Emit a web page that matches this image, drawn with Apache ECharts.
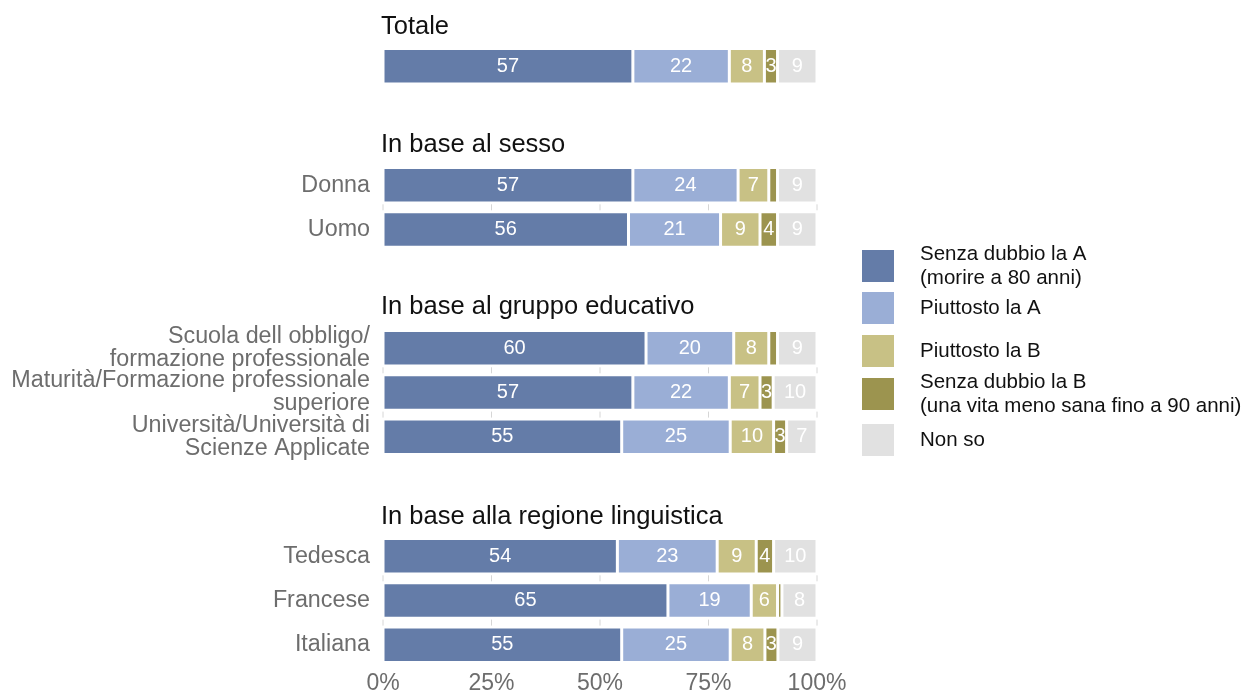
<!DOCTYPE html>
<html>
<head>
<meta charset="utf-8">
<script src="https://cdn.jsdelivr.net/npm/echarts@6/dist/echarts.min.js"></script>
<style>
  html, body { margin: 0; padding: 0; background: #fff; }
  #chart { width: 1241px; height: 691px; }
</style>
</head>
<body>
<div id="chart"></div>
<script>
// risposte (serie)
var answers = [
    'Senza dubbio la A\n(morire a 80 anni)',
    'Piuttosto la A',
    'Piuttosto la B',
    'Senza dubbio la B\n(una vita meno sana fino a 90 anni)',
    'Non so'
];
var colors = ['#647CA8', '#9AAED6', '#C8C185', '#9C944F', '#E1E1E1'];

// gruppi
var groupTitles = ['Totale', 'In base al sesso', 'In base al gruppo educativo', 'In base alla regione linguistica'];
var groupCategories = [
    ['Totale'],
    ['Donna', 'Uomo'],
    ['Scuola dell obbligo/\nformazione professionale', 'Maturità/Formazione professionale\nsuperiore', 'Università/Università di\nScienze Applicate'],
    ['Tedesca', 'Francese', 'Italiana']
];

// valori (%), ordine come answers
var totale = [57, 22, 8, 3, 9];
var donna = [57, 24, 7, 2, 9];
var uomo = [56, 21, 9, 4, 9];
var scuola = [60, 20, 8, 2, 9];
var maturita = [57, 22, 7, 3, 10];
var universita = [55, 25, 10, 3, 7];
var tedesca = [54, 23, 9, 4, 10];
var francese = [65, 19, 6, 1, 8];
var italiana = [55, 25, 8, 3, 9];
var groupValues = [
    [totale],
    [donna, uomo],
    [scuola, maturita, universita],
    [tedesca, francese, italiana]
];

var xTicks = [0, 25, 50, 75, 100];

var font = 'Liberation Sans, Arial, Helvetica, sans-serif';
var gridTops = [44, 163, 326, 534];
var titleTops = [13, 131, 293, 503];
var pitch = 44.3;
var legendTops = [242, 290, 333, 370, 422];

var grids = [], xAxes = [], yAxes = [], titles = [], series = [], legends = [];

groupTitles.forEach(function (t, g) {
    var n = groupCategories[g].length;
    grids.push({left: 383, width: 434, top: gridTops[g], height: pitch * n, outerBoundsMode: 'none', containLabel: false});
    titles.push({
        text: t, left: 381, top: titleTops[g], padding: 0,
        textStyle: {fontFamily: font, fontSize: 25.5, lineHeight: 28, fontWeight: 'normal', color: '#111'}
    });
    var last = g === groupTitles.length - 1;
    xAxes.push({
        type: 'value', gridIndex: g, min: 0, max: 100, interval: 25,
        show: true,
        axisLine: {show: false}, axisTick: {show: false}, splitLine: {show: false},
        axisLabel: {
            show: last, formatter: '{value}%', margin: 5,
            fontFamily: font, fontSize: 23, color: '#6d6d6d'
        }
    });
    yAxes.push({
        type: 'category', gridIndex: g, inverse: true, data: groupCategories[g],
        axisLine: {show: false}, axisTick: {show: false},
        axisLabel: {
            show: g > 0, interval: 0, margin: 13, fontFamily: font, fontSize: 23.3,
            lineHeight: 23, color: '#6d6d6d'
        }
    });

    // segmenti
    answers.forEach(function (name, k) {
        series.push({
            name: name, type: 'bar', stack: 'g' + g,
            xAxisIndex: g, yAxisIndex: g,
            barWidth: 35.5,
            itemStyle: {color: colors[k], borderColor: '#fff', borderWidth: 1.5},
            label: {
                show: true, position: 'inside', color: '#fff',
                fontFamily: font, fontSize: 20,
                formatter: function (p) {
                    return p.data.raw >= 3 ? p.data.raw : '';
                }
            },
            emphasis: {disabled: true},
            data: groupValues[g].map(function (row) {
                var sum = row.reduce(function (a, b) { return a + b; }, 0);
                return {value: row[k] / sum * 100, raw: row[k]};
            })
        });
    });

    // griglia visibile solo tra le barre
    if (n > 1) {
        var idx = [];
        for (var i = 0; i < n - 1; i++) idx.push([i]);
        series.push({
            type: 'custom', xAxisIndex: g, yAxisIndex: g, silent: true, z: 1,
            data: idx,
            renderItem: function (params, api) {
                var i = api.value(0);
                var yA = api.coord([0, i])[1];
                var yB = api.coord([0, i + 1])[1];
                var mid = (yA + yB) / 2;
                return {
                    type: 'group',
                    children: xTicks.map(function (v) {
                        var x = api.coord([v, i])[0];
                        return {
                            type: 'line',
                            shape: {x1: x, y1: mid - 3, x2: x, y2: mid + 3},
                            style: {stroke: '#d6d6d6', lineWidth: 1}
                        };
                    })
                };
            }
        });
    }
});

answers.forEach(function (name, k) {
    legends.push({
        data: [name], left: 860, top: legendTops[k], orient: 'vertical', padding: 0,
        icon: 'rect', itemWidth: 34, itemHeight: 34,
        selectedMode: false,
        textStyle: {fontFamily: font, fontSize: 20.5, lineHeight: 24, color: '#111', padding: [0, 0, 0, 20]}
    });
});

var chart = echarts.init(document.getElementById('chart'));
chart.setOption({
    backgroundColor: '#fff',
    animation: false,
    color: colors,
    title: titles,
    legend: legends,
    grid: grids,
    xAxis: xAxes,
    yAxis: yAxes,
    series: series
});
</script>
</body>
</html>
